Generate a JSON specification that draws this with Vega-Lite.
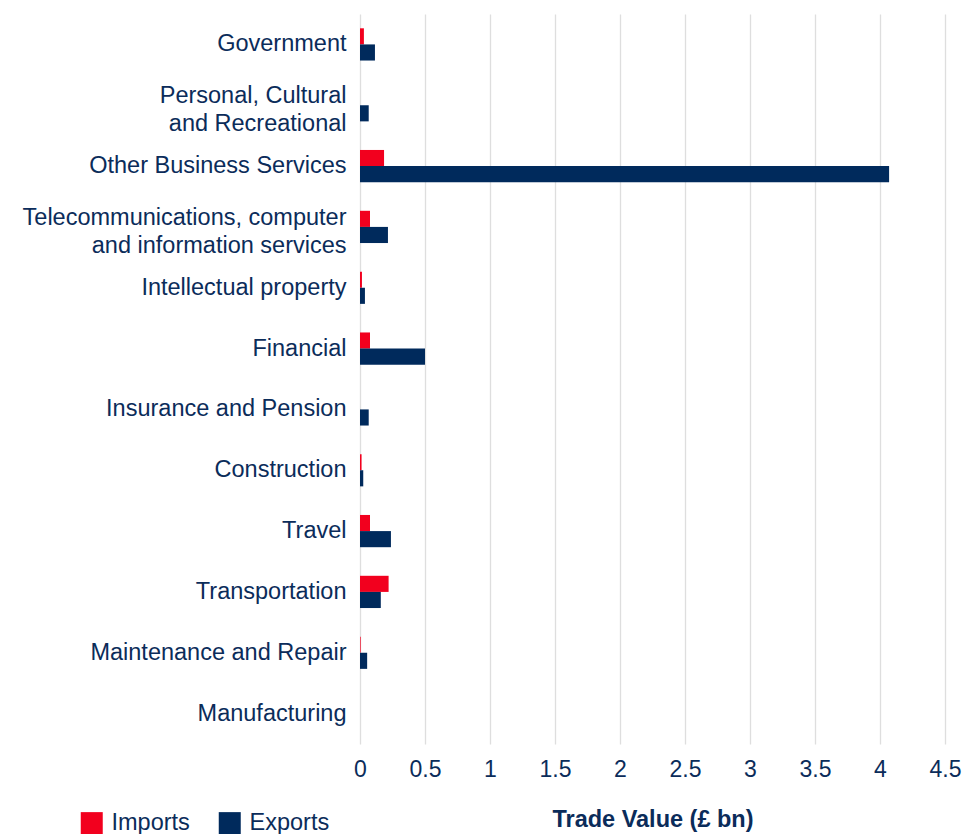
{
  "$schema": "https://vega.github.io/schema/vega-lite/v6.json",
  "autosize": {"type": "none"},
  "width": 585,
  "height": 730,
  "padding": {"left": 360, "top": 14, "right": 18, "bottom": 90},
  "background": "white",
  "config": {
    "view": {"stroke": null},
    "font": "Liberation Sans",
    "axis": {"labelColor": "#0B2C5A", "titleColor": "#0B2C5A", "labelFont": "Liberation Sans", "titleFont": "Liberation Sans"},
    "legend": {"labelColor": "#0B2C5A", "labelFont": "Liberation Sans"}
  },
  "data": {
    "values": [
      {"sector": "Government", "flow": "Imports", "value": 0.03},
      {"sector": "Government", "flow": "Exports", "value": 0.115},
      {"sector": "Personal, Cultural|and Recreational", "flow": "Imports", "value": 0.0},
      {"sector": "Personal, Cultural|and Recreational", "flow": "Exports", "value": 0.067},
      {"sector": "Other Business Services", "flow": "Imports", "value": 0.185},
      {"sector": "Other Business Services", "flow": "Exports", "value": 4.07},
      {"sector": "Telecommunications, computer|and information services", "flow": "Imports", "value": 0.077},
      {"sector": "Telecommunications, computer|and information services", "flow": "Exports", "value": 0.215},
      {"sector": "Intellectual property", "flow": "Imports", "value": 0.015},
      {"sector": "Intellectual property", "flow": "Exports", "value": 0.038},
      {"sector": "Financial", "flow": "Imports", "value": 0.077},
      {"sector": "Financial", "flow": "Exports", "value": 0.5},
      {"sector": "Insurance and Pension", "flow": "Imports", "value": 0.0},
      {"sector": "Insurance and Pension", "flow": "Exports", "value": 0.067},
      {"sector": "Construction", "flow": "Imports", "value": 0.012},
      {"sector": "Construction", "flow": "Exports", "value": 0.025},
      {"sector": "Travel", "flow": "Imports", "value": 0.077},
      {"sector": "Travel", "flow": "Exports", "value": 0.238},
      {"sector": "Transportation", "flow": "Imports", "value": 0.22},
      {"sector": "Transportation", "flow": "Exports", "value": 0.16},
      {"sector": "Maintenance and Repair", "flow": "Imports", "value": 0.005},
      {"sector": "Maintenance and Repair", "flow": "Exports", "value": 0.055},
      {"sector": "Manufacturing", "flow": "Imports", "value": 0.0},
      {"sector": "Manufacturing", "flow": "Exports", "value": 0.0}
    ]
  },
  "mark": {"type": "bar"},
  "encoding": {
    "y": {
      "field": "sector",
      "type": "nominal",
      "sort": null,
      "scale": {"paddingInner": 0.47, "paddingOuter": 0.235},
      "axis": {
        "title": null,
        "ticks": false,
        "domain": false,
        "grid": false,
        "labelFontSize": 23.5,
        "labelPadding": 14,
        "labelLimit": 400,
        "labelLineHeight": 28,
        "labelExpr": "split(datum.label, '|')",
        "labelOffset": {"condition": {"test": "indexof(datum.value, '|') >= 0", "value": -9}, "value": 0}
      }
    },
    "yOffset": {"field": "flow", "type": "nominal", "sort": ["Imports", "Exports"]},
    "x": {
      "field": "value",
      "type": "quantitative",
      "scale": {"domain": [0, 4.5], "nice": false},
      "axis": {
        "title": "Trade Value (£ bn)",
        "titleFontSize": 23.5,
        "titleFontWeight": "bold",
        "titlePadding": 26,
        "values": [0, 0.5, 1, 1.5, 2, 2.5, 3, 3.5, 4, 4.5],
        "format": "~g",
        "labelFontSize": 23,
        "labelPadding": 14,
        "ticks": false,
        "domain": false,
        "grid": true,
        "gridColor": "#DEDEDE",
        "gridWidth": 1.3,
        "labelFlush": false
      }
    },
    "color": {
      "field": "flow",
      "type": "nominal",
      "sort": ["Imports", "Exports"],
      "scale": {"domain": ["Imports", "Exports"], "range": ["#F2001E", "#002A5C"]},
      "legend": {
        "title": null,
        "orient": "none",
        "direction": "horizontal",
        "legendX": -280,
        "legendY": 797,
        "symbolType": "square",
        "symbolSize": 484,
        "symbolStrokeWidth": 0,
        "labelFontSize": 23.5,
        "labelOffset": 8,
        "columnPadding": 28,
        "encode": {
          "symbols": {
            "update": {
              "fill": [
                {"test": "datum.value === 'Imports'", "value": "#C0111A"},
                {"value": "#002A5C"}
              ],
              "stroke": {"value": "transparent"}
            }
          }
        }
      }
    }
  }
}
